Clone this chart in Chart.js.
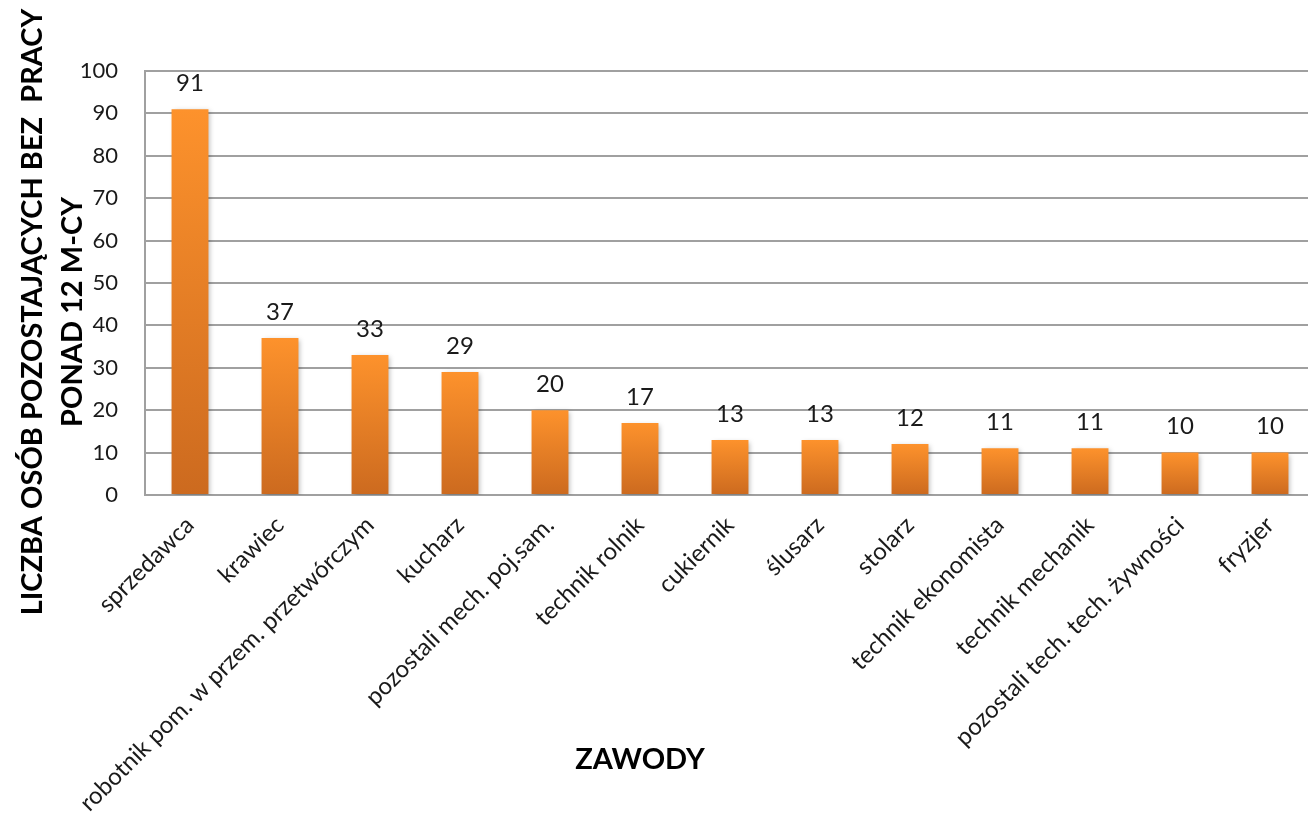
<!DOCTYPE html>
<html>
<head>
<meta charset="utf-8">
<script src="https://cdn.jsdelivr.net/npm/chart.js@4"></script>
<style>
  html, body { margin: 0; padding: 0; background: #fff; overflow: hidden; }
  #wrap { width: 1315px; height: 824px; }
</style>
</head>
<body>
<div id="wrap"><canvas id="barChart"></canvas></div>
<script>
const categories = [
    'sprzedawca', 'krawiec', 'robotnik pom. w przem. przetwórczym', 'kucharz',
    'pozostali mech. poj.sam.', 'technik rolnik', 'cukiernik', 'ślusarz', 'stolarz',
    'technik ekonomista', 'technik mechanik', 'pozostali tech. tech. żywności', 'fryzjer'
];
const counts = [91, 37, 33, 29, 20, 17, 13, 13, 12, 11, 11, 10, 10];
const yTitleLines = ['LICZBA OSÓB POZOSTAJĄCYCH BEZ  PRACY', 'PONAD 12 M-CY'];
const xTitle = 'ZAWODY';

Chart.defaults.font.family = "Lato, 'Open Sans', sans-serif";
Chart.defaults.color = '#1a1a1a';

const gridGray = '#a0a0a0';

// bar gradient: lighter at the top of each bar, darker at its base
function barGradient(context) {
    const chart = context.chart;
    if (!chart.chartArea) return '#f28a2a';
    const y = chart.scales.y;
    const top = y.getPixelForValue(context.raw);
    const base = y.getPixelForValue(0);
    const g = chart.ctx.createLinearGradient(0, top, 0, base);
    g.addColorStop(0, '#fd922c');
    g.addColorStop(1, '#cc6a1f');
    return g;
}

// drop shadow under the bars + value labels above
const barExtras = {
    id: 'barExtras',
    beforeDatasetsDraw(chart) {
        const ctx = chart.ctx;
        ctx.save();
        ctx.shadowColor = 'rgba(0,0,0,0.28)';
        ctx.shadowBlur = 5;
        ctx.shadowOffsetX = 2;
        ctx.shadowOffsetY = 2;
    },
    afterDatasetsDraw(chart) {
        const ctx = chart.ctx;
        ctx.restore();
        const meta = chart.getDatasetMeta(0);
        ctx.save();
        ctx.font = "24px Lato, 'Open Sans', sans-serif";
        ctx.fillStyle = '#1a1a1a';
        ctx.textAlign = 'center';
        ctx.textBaseline = 'middle';
        meta.data.forEach((bar, i) => {
            ctx.fillText(String(counts[i]), bar.x, bar.y - 26);
        });
        ctx.restore();
    }
};

// axis titles placed like in the original sheet
const axisTitles = {
    id: 'axisTitles',
    afterDraw(chart) {
        const ctx = chart.ctx;
        ctx.save();
        ctx.fillStyle = '#000';
        ctx.font = "bold 29px Lato, 'Open Sans', sans-serif";
        ctx.textAlign = 'center';
        ctx.textBaseline = 'middle';
        ctx.translate(0, 312);
        ctx.rotate(-Math.PI / 2);
        ctx.fillText(yTitleLines[0], 0, 33);
        ctx.fillText(yTitleLines[1], 0, 73);
        ctx.restore();

        ctx.save();
        ctx.fillStyle = '#000';
        ctx.font = "bold 29px Lato, 'Open Sans', sans-serif";
        ctx.textAlign = 'center';
        ctx.textBaseline = 'middle';
        ctx.fillText(xTitle, 640, 760);
        ctx.restore();
    }
};

const ctx = document.getElementById('barChart').getContext('2d');
new Chart(ctx, {
    type: 'bar',
    data: {
        labels: categories,
        datasets: [{
            label: 'Liczba osób',
            data: counts,
            backgroundColor: barGradient,
            borderWidth: 0,
            categoryPercentage: 1,
            barPercentage: 0.41
        }]
    },
    options: {
        responsive: true,
        maintainAspectRatio: false,
        animation: false,
        layout: { padding: { top: 71, right: 0, bottom: 0, left: 0 } },
        plugins: {
            legend: { display: false },
            tooltip: { enabled: false }
        },
        scales: {
            y: {
                min: 0,
                max: 100,
                ticks: { stepSize: 10, padding: 27, font: { size: 22 }, color: '#1a1a1a' },
                grid: { color: gridGray, lineWidth: 2, drawTicks: false },
                border: { display: true, color: gridGray, width: 2 },
                afterFit(scale) { scale.width = 145; }
            },
            x: {
                ticks: {
                    minRotation: 45,
                    maxRotation: 45,
                    padding: 16,
                    autoSkip: false,
                    font: { size: 24 },
                    color: '#1a1a1a'
                },
                grid: { display: false, drawTicks: false },
                border: { display: true, color: gridGray, width: 2 },
                afterFit(scale) { scale.height = 329; }
            }
        }
    },
    plugins: [barExtras, axisTitles]
});
</script>
</body>
</html>
